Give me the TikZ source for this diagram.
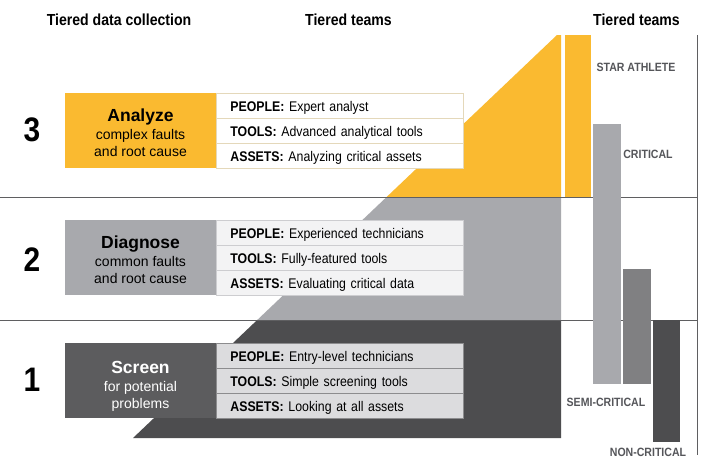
\documentclass[tikz,border=0pt]{standalone}
\usepackage{fontspec}
\setmainfont{Liberation Sans}[FakeStretch=0.88]
\newfontfamily\plainsans{Liberation Sans}
\definecolor{tyellow}{RGB}{250,186,48}
\definecolor{tgray}{RGB}{168,169,173}
\definecolor{tdark}{RGB}{77,77,79}
\definecolor{tmid}{RGB}{128,128,130}
\definecolor{tbox}{RGB}{92,92,94}
\definecolor{tanline}{RGB}{228,216,186}
\definecolor{lgfill}{RGB}{243,243,244}
\definecolor{lgline}{RGB}{205,205,208}
\definecolor{dkfill}{RGB}{220,220,222}
\definecolor{dkline}{RGB}{140,140,142}
\definecolor{seplin}{RGB}{95,95,97}
\definecolor{labgray}{RGB}{85,86,90}
\begin{document}
\begin{tikzpicture}[x=1pt,y=-1pt,
  hdr/.style={font=\fontsize{16}{16}\selectfont\bfseries, text=black, inner sep=0pt, anchor=base},
  num/.style={font=\fontsize{34}{34}\selectfont\bfseries, text=black, inner sep=0pt},
  lbox/.style={anchor=north west, minimum width=151pt, minimum height=75pt, inner sep=0pt},
  ltxt/.style={anchor=north, align=center, inner sep=0pt, font=\plainsans\fontsize{14}{16.7}\selectfont},
  rowbox/.style={anchor=north west, minimum height=25pt, text width=219pt, inner xsep=14pt, inner ysep=0pt,
     align=left, text height=12pt, text depth=0pt, font=\fontsize{14}{14}\selectfont, line width=0.8pt},
  bar/.style={anchor=north west, inner sep=0pt},
  rlab/.style={font=\fontsize{12}{12}\selectfont\bfseries, text=labgray, inner sep=0pt},
  sepline/.style={draw=seplin, line width=0.9pt}
]
\useasboundingbox (0,0) rectangle (720,469);
\fill[white] (0,0) rectangle (720,469);

% stepped background
\coordinate (tipL) at (557,35);
\coordinate (tipR) at (561,35);
\coordinate (d1) at (386.6,197);
\coordinate (e1) at (561,197);
\coordinate (d2) at (257.2,320);
\coordinate (e2) at (561,320);
\coordinate (d3) at (133,438);
\coordinate (e3) at (561,438);
\fill[tyellow] (d1) -- (tipL) -- (tipR) -- (e1) -- cycle;
\fill[tgray] (d2) -- (d1) -- (e1) -- (e2) -- cycle;
\fill[tdark] (d3) -- (d2) -- (e2) -- (e3) -- cycle;

% separator lines
\coordinate (l1a) at (0,197);
\coordinate (l1b) at (697,197);
\coordinate (l2a) at (0,320);
\coordinate (l2b) at (697,320);
\coordinate (vt) at (697,35);
\coordinate (vb) at (697,455);
\draw[sepline] (l1a) -- (l1b);
\draw[sepline] (l2a) -- (l2b);
\draw[sepline] (vt) -- (vb);

% headers
\node[hdr] (h1) at (119,25.5) {Tiered data collection};
\node[hdr] (h2) at (348.5,25.5) {Tiered teams};
\node[hdr] (h3) at (636.5,25.5) {Tiered teams};

% right bars
\node[bar, fill=tyellow, minimum width=26pt, minimum height=162pt] (bstar) at (565,35) {};
\node[bar, fill=tgray, minimum width=28pt, minimum height=260pt] (bcrit) at (593,124) {};
\node[bar, fill=tmid, minimum width=28pt, minimum height=115pt] (bsemi) at (623,269) {};
\node[bar, fill=tdark, minimum width=27pt, minimum height=122pt] (bnon) at (653,320) {};
\node[rlab] (lstar) at (636,67) {STAR ATHLETE};
\node[rlab] (lcrit) at (648,154) {CRITICAL};
\node[rlab] (lsemi) at (606,402) {SEMI-CRITICAL};
\node[rlab] (lnon) at (648,452) {NON-CRITICAL};

% tier numbers
\node[num] (n3) at (32,130) {3};
\node[num] (n2) at (32,260) {2};
\node[num] (n1) at (32,380) {1};

% tier 3
\node[lbox, fill=tyellow] (an) at (65,92.5) {};
\node[ltxt, text=black] (ant) at (140.5,109) {{\fontsize{17.5}{17.5}\selectfont\bfseries Analyze}\\[1.3pt]complex faults\\and root cause};
\node[rowbox, fill=white, draw=tanline] (an1) at (216,92.5) {\textbf{PEOPLE:} Expert analyst};
\node[rowbox, fill=white, draw=tanline] (an2) at (216,117.5) {\textbf{TOOLS:} Advanced analytical tools};
\node[rowbox, fill=white, draw=tanline] (an3) at (216,142.5) {\textbf{ASSETS:} Analyzing critical assets};

% tier 2
\node[lbox, fill=tgray] (di) at (65,219.5) {};
\node[ltxt, text=black] (dit) at (140.5,235.5) {{\fontsize{17.5}{17.5}\selectfont\bfseries Diagnose}\\[1.3pt]common faults\\and root cause};
\node[rowbox, fill=lgfill, draw=lgline] (di1) at (216,219.5) {\textbf{PEOPLE:} Experienced technicians};
\node[rowbox, fill=lgfill, draw=lgline] (di2) at (216,244.5) {\textbf{TOOLS:} Fully-featured tools};
\node[rowbox, fill=lgfill, draw=lgline] (di3) at (216,269.5) {\textbf{ASSETS:} Evaluating critical data};

% tier 1
\node[lbox, fill=tbox] (sc) at (65,342.5) {};
\node[ltxt, text=white] (sct) at (140.5,361.3) {{\fontsize{17.5}{17.5}\selectfont\bfseries Screen}\\[1.3pt]for potential\\problems};
\node[rowbox, fill=dkfill, draw=dkline] (sc1) at (216,342.5) {\textbf{PEOPLE:} Entry-level technicians};
\node[rowbox, fill=dkfill, draw=dkline] (sc2) at (216,367.5) {\textbf{TOOLS:} Simple screening tools};
\node[rowbox, fill=dkfill, draw=dkline] (sc3) at (216,392.5) {\textbf{ASSETS:} Looking at all assets};
\end{tikzpicture}
\end{document}
